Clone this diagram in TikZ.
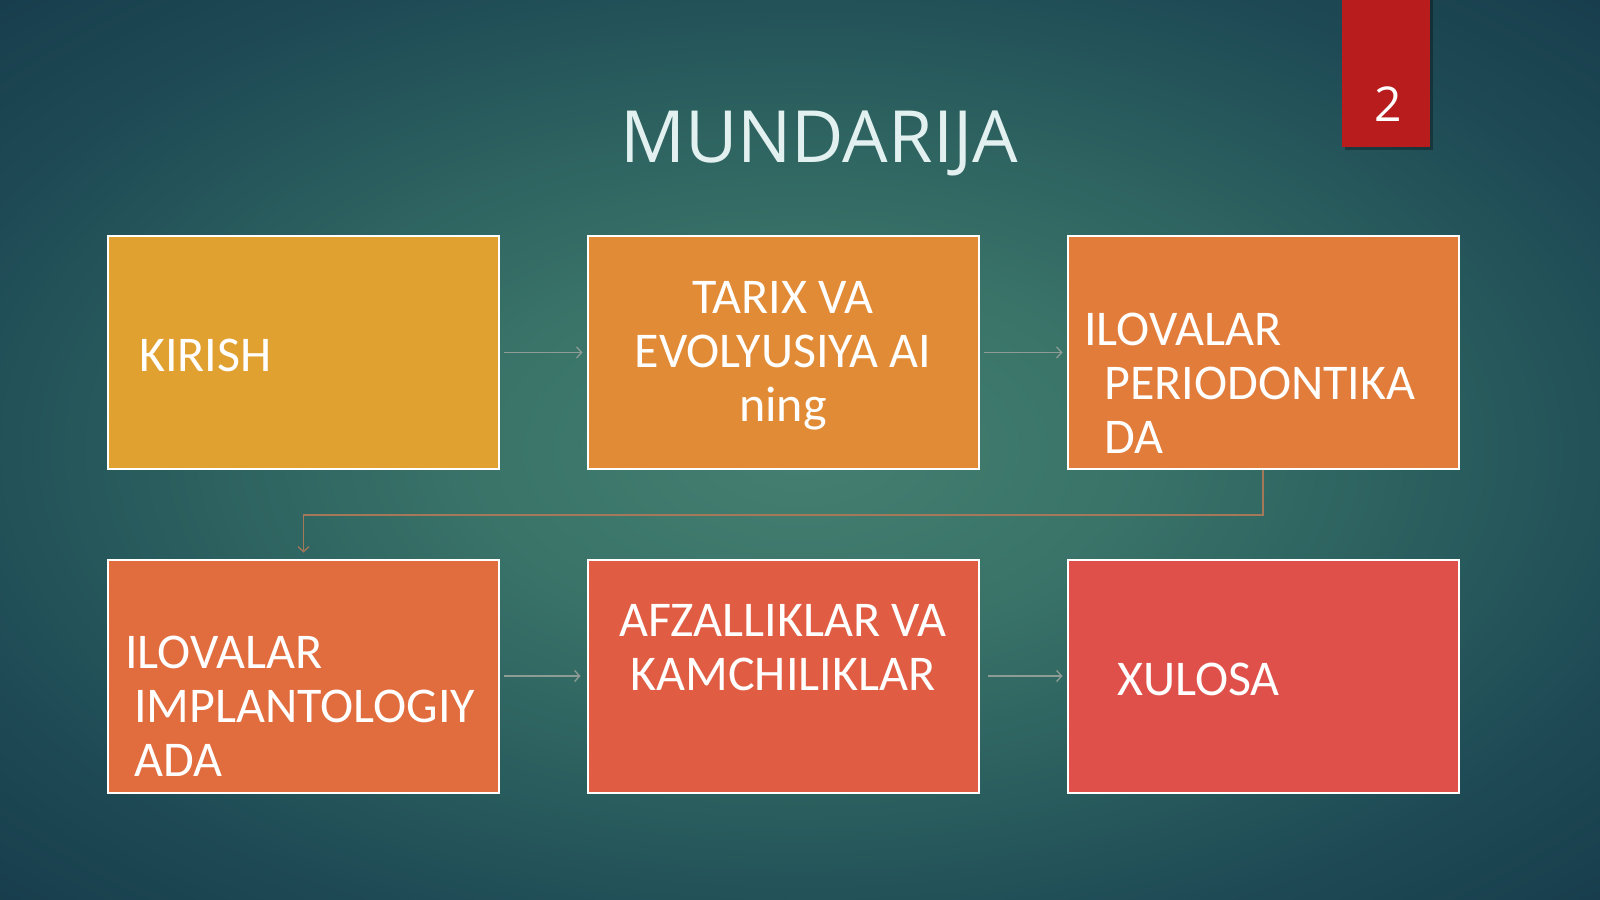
\documentclass[tikz,border=0pt]{standalone}
\usepackage{fontspec}
\setmainfont{Carlito}
\newfontfamily\titlefont{Open Sans}
\usetikzlibrary{arrows.meta}

\definecolor{bgA}{HTML}{447F71}
\definecolor{bgB}{HTML}{3A7469}
\definecolor{bgC}{HTML}{2A5E5E}
\definecolor{bgD}{HTML}{1E4A55}
\definecolor{bgE}{HTML}{143647}
\definecolor{tabred}{HTML}{B81C1C}
\definecolor{titlecol}{HTML}{E2F0F0}
\definecolor{boxA}{HTML}{E1A131}
\definecolor{boxB}{HTML}{E28B36}
\definecolor{boxC}{HTML}{E27C3A}
\definecolor{boxD}{HTML}{E16D3E}
\definecolor{boxE}{HTML}{E05D44}
\definecolor{boxF}{HTML}{E0504A}
\definecolor{linkgray}{HTML}{8E9C96}
\definecolor{linkbrown}{HTML}{A5785A}

\pgfdeclareradialshading{slidebg}{\pgfpoint{0bp}{0bp}}{color(0bp)=(bgA); color(10bp)=(bgB); color(20bp)=(bgC); color(28bp)=(bgD); color(40bp)=(bgE)}

\begin{document}
\begin{tikzpicture}[x=1pt, y=-1pt,
    box/.style={draw=white, line width=2pt, minimum width=391pt, minimum height=233pt, inner sep=0pt},
    boxtext/.style={text=white, font=\fontsize{50}{54}\selectfont, inner sep=0pt},
    link/.style={draw=linkgray, line width=1.3pt, -{Straight Barb[length=5pt,width=11pt]}}]

    % Background
    \shade[shading=slidebg] (0,0) rectangle (1600,899);
    \useasboundingbox (0,0) rectangle (1600,899);

    % Page number tab
    \fill[black, opacity=0.3] (1345,0) rectangle (1433,150);
    \fill[tabred] (1342,0) rectangle (1430,147);
    \node[text=white, font=\titlefont\fontsize{48}{48}\selectfont] (num) at (1388,104) {2};

    % Title
    \node[text=titlecol, font=\titlefont\fontsize{72}{72}\selectfont] (title) at (819,143) {MUNDARIJA};

    % Boxes, first row
    \node[box, fill=boxA] (kirish) at (303.5,352.5) {};
    \node[box, fill=boxB] (tarix) at (783,352.5) {};
    \node[box, fill=boxC] (period) at (1263,352.5) {};

    % Boxes, second row
    \node[box, fill=boxD] (implant) at (303.5,676) {};
    \node[box, fill=boxE] (afzal) at (783,676) {};
    \node[box, fill=boxF] (xulosa) at (1263,676) {};

    % Box texts
    \node[boxtext, anchor=west] (t1) at (139,355) {KIRISH};
    \node[boxtext, align=center] (t2) at (783,356) {TARIX VA\\EVOLYUSIYA AI\\ning};
    \node[boxtext, anchor=west, align=left] (t3) at (1084,383) {ILOVALAR\\\hspace*{20pt}PERIODONTIKA\\\hspace*{20pt}DA};
    \node[boxtext, anchor=west, align=left] (t4) at (125,706) {ILOVALAR\\\hspace*{9pt}IMPLANTOLOGIY\\\hspace*{9pt}ADA};
    \node[boxtext, align=center] (t5) at (783,648) {AFZALLIKLAR VA\\KAMCHILIKLAR};
    \node[boxtext, anchor=west] (t6) at (1117,679) {XULOSA};

    % Connectors
    \draw[link, shorten <=4pt, shorten >=4pt] (kirish) -- (tarix);
    \draw[link, shorten <=4pt, shorten >=4pt] (tarix) -- (period);
    \draw[link, draw=linkbrown, shorten >=6pt] (period.south) -- ++(0,45) -| (implant.north);
    \draw[link, shorten <=4pt, shorten >=6pt] (implant) -- (afzal);
    \draw[link, shorten <=8pt, shorten >=4pt] (afzal) -- (xulosa);

\end{tikzpicture}
\end{document}
